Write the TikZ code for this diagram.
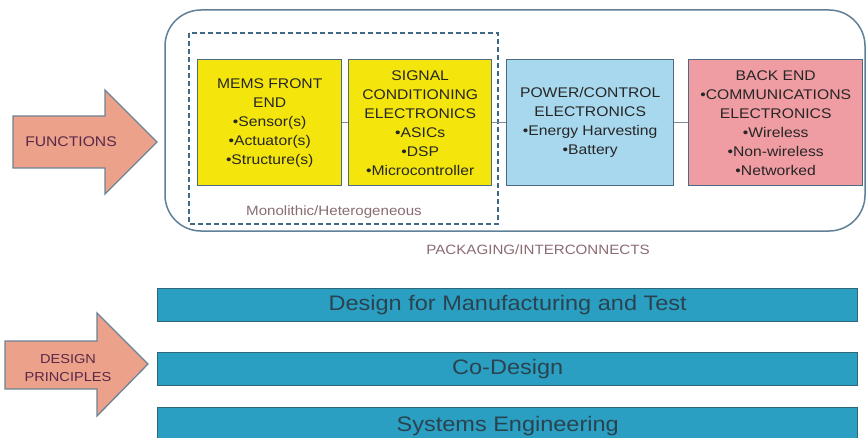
\documentclass[tikz,border=0pt]{standalone}
\usepackage{fontspec}
\setmainfont{Liberation Sans}[FakeStretch=1.12]
\definecolor{yellowfill}{HTML}{F4E60C}
\definecolor{bluefill}{HTML}{A8D8EE}
\definecolor{pinkfill}{HTML}{EF9CA2}
\definecolor{boxline}{HTML}{4B6B80}
\definecolor{boxtext}{HTML}{262626}
\definecolor{arrowfill}{HTML}{EBA18A}
\definecolor{arrowline}{HTML}{6C8496}
\definecolor{arrowtext}{HTML}{5A2848}
\definecolor{barfill}{HTML}{2A9FC1}
\definecolor{barline}{HTML}{2E6878}
\definecolor{bartext}{HTML}{2A4350}
\definecolor{outerline}{HTML}{5F8096}
\definecolor{dashline}{HTML}{3F6A86}
\definecolor{captext}{HTML}{8A6C72}
\definecolor{connline}{HTML}{7E8E96}
\tikzset{
  funcbox/.style={draw=boxline, line width=1.4pt, rectangle, anchor=north west,
    minimum height=126pt, inner sep=0pt, align=center, text=boxtext,
    font=\fontsize{14}{19}\selectfont},
  bar/.style={draw=barline, fill=barfill, line width=1.4pt, rectangle, anchor=north west,
    minimum width=700pt, inner sep=0pt, text=bartext, font=\fontsize{21}{24}\selectfont},
  bigarrow/.style={draw=arrowline, fill=arrowfill, line width=1.3pt, line join=miter},
  arrowlabel/.style={text=arrowtext, align=center, inner sep=0pt},
  caption/.style={text=captext, inner sep=0pt, font=\fontsize{13.5}{16}\selectfont},
  conn/.style={draw=connline, line width=0.8pt}
}
\begin{document}
\begin{tikzpicture}[x=1pt,y=-1pt]
\useasboundingbox (0,0) rectangle (866,438);
\fill[white] (0,0) rectangle (866,438);

% packaging envelope and monolithic/heterogeneous group
\draw[outerline, line width=1.5pt, rounded corners=36pt] (165,10) rectangle (865,231);
\draw[dashline, line width=1.3pt, dash pattern=on 5pt off 3pt] (189,33) rectangle (498,224);

% function blocks
\node[funcbox, fill=yellowfill, minimum width=144pt] (mems) at (197,59)
  {MEMS FRONT\\END\\\textbullet Sensor(s)\\\textbullet Actuator(s)\\\textbullet Structure(s)};
\node[funcbox, fill=yellowfill, minimum width=143pt] (sig) at (348,59)
  {SIGNAL\\CONDITIONING\\ELECTRONICS\\\textbullet ASICs\\\textbullet DSP\\\textbullet Microcontroller};
\node[funcbox, fill=bluefill, minimum width=167pt] (pwr) at (506,59)
  {POWER/CONTROL\\ELECTRONICS\\\textbullet Energy Harvesting\\\textbullet Battery};
\node[funcbox, fill=pinkfill, minimum width=174pt] (back) at (688,59)
  {BACK END\\\textbullet COMMUNICATIONS\\ELECTRONICS\\\textbullet Wireless\\\textbullet Non-wireless\\\textbullet Networked};

\draw[conn] (mems.east) -- (sig.west);
\draw[conn] (sig.east) -- (pwr.west);
\draw[conn] (pwr.east) -- (back.west);

\node[caption] (mono) at (334,212) {Monolithic/Heterogeneous};
\node[caption] (pack) at (538,250) {PACKAGING/INTERCONNECTS};

% design principle bars
\node[bar, minimum height=33pt] (dfm) at (157,288) {Design for Manufacturing and Test};
\node[bar, minimum height=33pt] (codes) at (157,352) {Co-Design};
\node[bar, minimum height=36pt] (syseng) at (157,407) {Systems Engineering};

% block arrows
\draw[bigarrow] (13,116) -- (105,116) -- (105,90) -- (157,142) -- (105,194) -- (105,168) -- (13,168) -- cycle;
\node[arrowlabel, font=\fontsize{14}{16}\selectfont] (func) at (71,142) {FUNCTIONS};

\draw[bigarrow] (5,341) -- (97,341) -- (97,313) -- (148,364) -- (97,416) -- (97,389) -- (5,389) -- cycle;
\node[arrowlabel, font=\fontsize{13}{17.5}\selectfont] (design) at (68,368) {DESIGN\\PRINCIPLES};
\end{tikzpicture}
\end{document}
